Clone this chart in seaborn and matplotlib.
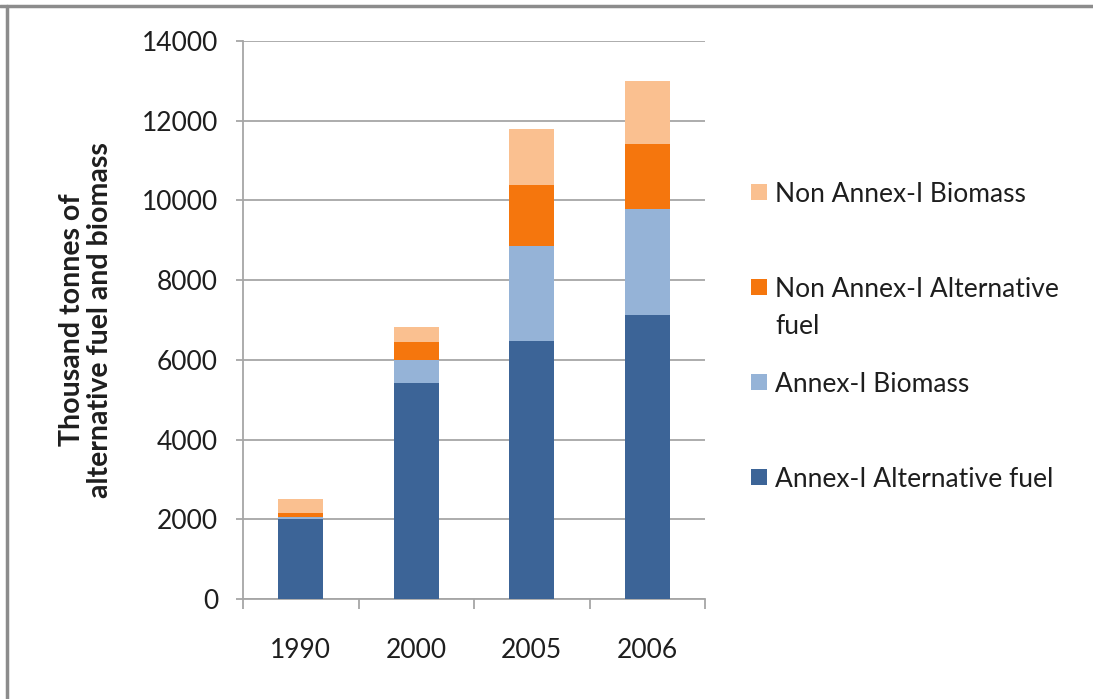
import matplotlib
matplotlib.use("Agg")
import matplotlib.pyplot as plt
from matplotlib.lines import Line2D
from matplotlib.patches import Rectangle
import numpy as np
import pandas as pd
import seaborn as sns

# Data (thousand tonnes)
years = ["1990", "2000", "2005", "2006"]
annex_alt_fuel = [2000, 5410, 6470, 7120]
annex_biomass = [60, 580, 2380, 2660]
non_annex_alt_fuel = [90, 450, 1530, 1630]
non_annex_biomass = [350, 380, 1400, 1590]

series_names = [
    "Annex-I Alternative fuel",
    "Annex-I Biomass",
    "Non Annex-I Alternative\nfuel",
    "Non Annex-I Biomass",
]
series_values = [annex_alt_fuel, annex_biomass, non_annex_alt_fuel, non_annex_biomass]
colors = ["#3C6497", "#95B3D7", "#F5760D", "#FAC090"]

yticks = [0, 2000, 4000, 6000, 8000, 10000, 12000, 14000]

sns.set_style("white")
plt.rcParams["font.family"] = ["Lato", "DejaVu Sans"]

W, H = 1093, 699
fig = plt.figure(figsize=(W / 100, H / 100), dpi=100)
ax = fig.add_axes([243 / W, 1 - 599 / H, (705 - 243) / W, (599 - 41) / H])

text_color = "#1E1E1E"
grid_color = "#A6A6A6"
fs = 19

df = pd.DataFrame({"year": years})
bottom = np.zeros(len(years))
for name, vals, col in zip(series_names, series_values, colors):
    sns.barplot(x=df["year"], y=np.array(vals, dtype=float), bottom=bottom,
                color=col, width=0.39, ax=ax, order=years,
                edgecolor="none", linewidth=0, saturation=1, zorder=3)
    bottom = bottom + np.array(vals, dtype=float)

ax.set_xlim(-0.5, 3.5)
ax.set_ylim(0, 14000)
ax.set_yticks(yticks)
ax.set_yticklabels([str(v) for v in yticks])
ax.yaxis.grid(True, color=grid_color, linewidth=1.3, zorder=0)
ax.set_axisbelow(True)

for s in ["top", "right"]:
    ax.spines[s].set_visible(False)
for s in ["left", "bottom"]:
    ax.spines[s].set_color(grid_color)
    ax.spines[s].set_linewidth(1.3)

ax.tick_params(axis="y", which="major", left=True, length=5, width=1.3,
               color=grid_color, pad=13, labelsize=fs, labelcolor=text_color)
ax.tick_params(axis="x", which="major", bottom=False, length=0, pad=28,
               labelsize=fs, labelcolor=text_color)
ax.set_xticks(np.arange(-0.5, 4.0, 1.0), minor=True)
ax.tick_params(axis="x", which="minor", bottom=True, length=7, width=1.3,
               color=grid_color)
ax.set_xlabel("")

ax.set_ylabel("Thousand tonnes of\nalternative fuel and biomass",
              fontsize=20.5, fontweight="bold", color=text_color, linespacing=1.1)
ax.yaxis.set_label_coords(-0.281, 0.5)

# Legend, top entry first, as in the stacking order from the top
legend_rows = [
    ("Non Annex-I Biomass", colors[3], 192),
    ("Non Annex-I Alternative\nfuel", colors[2], 287),
    ("Annex-I Biomass", colors[1], 382),
    ("Annex-I Alternative fuel", colors[0], 477),
]
for label, col, yc in legend_rows:
    fig.patches.append(Rectangle((751 / W, 1 - (yc + 8) / H), 16 / W, 16 / H,
                                 transform=fig.transFigure, facecolor=col,
                                 edgecolor="none"))
    for i, line in enumerate(label.split("\n")):
        fig.text(775 / W, 1 - (yc + 37 * i) / H, line, fontsize=fs,
                 color=text_color, ha="left", va="center_baseline")

# Outer frame: top and left edges
fig.add_artist(Line2D([0, 1], [1 - 5.5 / H, 1 - 5.5 / H], transform=fig.transFigure,
                      color="#8C8C8C", linewidth=2.5))
fig.add_artist(Line2D([7 / W, 7 / W], [0, 1 - 5.5 / H], transform=fig.transFigure,
                      color="#8C8C8C", linewidth=2.5))

fig.savefig("out.png", dpi=100, facecolor="white")
